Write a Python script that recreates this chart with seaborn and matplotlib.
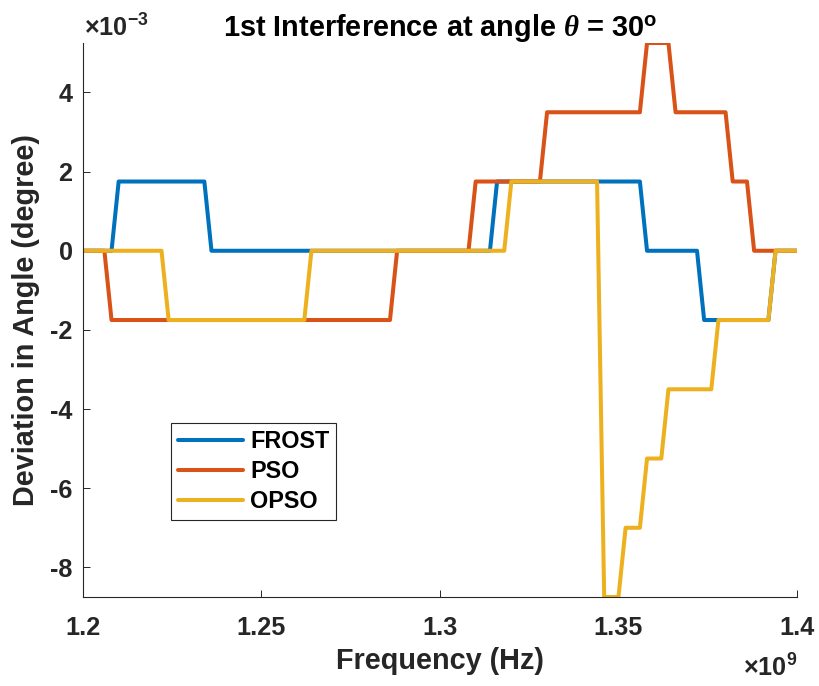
import numpy as np
import pandas as pd
import matplotlib
matplotlib.use("Agg")
import matplotlib.pyplot as plt
import seaborn as sns

# Step-wise angle deviation (x1e-3 degree) versus frequency (x1e9 Hz), corner points
FROST_f = [1.200, 1.208, 1.210, 1.234, 1.236, 1.314, 1.316, 1.356, 1.358,
           1.372, 1.374, 1.392, 1.394, 1.400]
FROST_v = [0, 0, 1.75, 1.75, 0, 0, 1.75, 1.75, 0, 0, -1.75, -1.75, 0, 0]

PSO_f = [1.200, 1.206, 1.208, 1.286, 1.288, 1.308, 1.310, 1.328, 1.330,
         1.356, 1.358, 1.364, 1.366, 1.380, 1.382, 1.386, 1.388, 1.400]
PSO_v = [0, 0, -1.75, -1.75, 0, 0, 1.75, 1.75, 3.5, 3.5, 5.25, 5.25,
         3.5, 3.5, 1.75, 1.75, 0, 0]

OPSO_f = [1.200, 1.222, 1.224, 1.262, 1.264, 1.318, 1.320, 1.344, 1.346,
          1.350, 1.352, 1.356, 1.358, 1.362, 1.364, 1.376, 1.378, 1.392,
          1.394, 1.400]
OPSO_v = [0, 0, -1.75, -1.75, 0, 0, 1.75, 1.75, -8.75, -8.75, -7, -7,
          -5.25, -5.25, -3.5, -3.5, -1.75, -1.75, 0, 0]

methods = ["FROST", "PSO", "OPSO"]
colors = ["#0072BD", "#D95319", "#EDB120"]

x_ticks = [1.2, 1.25, 1.3, 1.35, 1.4]
x_ticklabels = ["1.2", "1.25", "1.3", "1.35", "1.4"]
y_ticks = [-8, -6, -4, -2, 0, 2, 4]
y_ticklabels = ["-8", "-6", "-4", "-2", "0", "2", "4"]

df = pd.concat([
    pd.DataFrame({"freq": FROST_f, "dev": FROST_v, "method": "FROST"}),
    pd.DataFrame({"freq": PSO_f, "dev": PSO_v, "method": "PSO"}),
    pd.DataFrame({"freq": OPSO_f, "dev": OPSO_v, "method": "OPSO"}),
], ignore_index=True)

sns.set_theme(style="white")
plt.rcParams["font.family"] = ["Liberation Sans", "DejaVu Sans"]
plt.rcParams["font.weight"] = "bold"
plt.rcParams["mathtext.fontset"] = "custom"
plt.rcParams["mathtext.rm"] = "Liberation Sans"
plt.rcParams["mathtext.bf"] = "Liberation Sans:bold"
plt.rcParams["mathtext.it"] = "Liberation Serif:italic"

axc = "#262626"
fig = plt.figure(figsize=(8.19, 6.86), dpi=100)
ax = fig.add_axes([0.1013, 0.1297, 0.8718, 0.8076])

sns.lineplot(data=df, x="freq", y="dev", hue="method", hue_order=methods,
             palette=dict(zip(methods, colors)), estimator=None, sort=False,
             linewidth=2.9, ax=ax)

ax.set_xlim(1.2, 1.4)
ax.set_ylim(-8.75, 5.25)
ax.set_xticks(x_ticks)
ax.set_xticklabels(x_ticklabels)
ax.set_yticks(y_ticks)
ax.set_yticklabels(y_ticklabels)

for side in ["top", "right"]:
    ax.spines[side].set_visible(False)
for side in ["left", "bottom"]:
    ax.spines[side].set_color(axc)
    ax.spines[side].set_linewidth(0.8)

ax.tick_params(bottom=True, left=True, direction="in", length=5, width=0.7,
               color=axc, labelcolor=axc, labelsize=18.2)
ax.tick_params(axis="x", pad=13.5)
ax.tick_params(axis="y", pad=7.5)
for lab in ax.get_xticklabels() + ax.get_yticklabels():
    lab.set_fontweight("bold")

ax.set_xlabel("Frequency (Hz)", fontsize=20.8, fontweight="bold", color=axc,
              labelpad=5)
ax.set_ylabel("Deviation in Angle (degree)", fontsize=20.8, fontweight="bold",
              color=axc, labelpad=7)
ax.set_title(r"1st Interference at angle $\theta$ = 30$^{\mathbf{o}}$",
             fontsize=20.8, fontweight="bold", color="black", pad=5)

ax.text(0.002, 1.011, r"$\times\mathbf{10^{-3}}$", transform=ax.transAxes,
        fontsize=18.2, color=axc, ha="left", va="baseline")
ax.text(1.0, -0.144, r"$\times\mathbf{10^{9}}$", transform=ax.transAxes,
        fontsize=18.2, color=axc, ha="right", va="baseline")

leg = ax.legend(loc="upper left", bbox_to_anchor=(0.1228, 0.3135),
                borderaxespad=0, frameon=True, fancybox=False, framealpha=1,
                edgecolor=axc, fontsize=16.8, handlelength=2.8,
                handletextpad=0.3, labelspacing=0.3, borderpad=0.3,
                title=None)
leg.get_frame().set_linewidth(0.8)
for t in leg.get_texts():
    t.set_fontweight("bold")
    t.set_color("black")

fig.savefig("out.png", dpi=100, facecolor="white")
